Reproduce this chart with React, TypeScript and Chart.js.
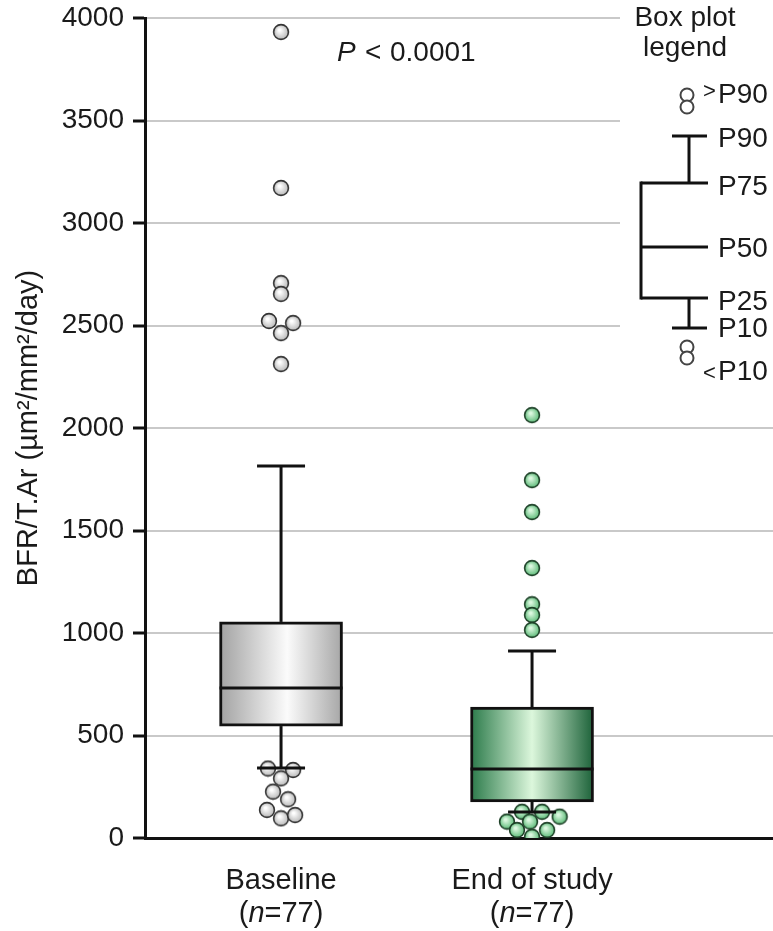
import React, { useEffect, useRef } from 'react';
import { Chart, registerables } from 'chart.js';

Chart.register(...registerables);

// ---------- data ----------
const categories = ['Baseline', 'End of study'];
const sampleSizes = [77, 77];
const p10 = [341, 127];
const p25 = [546, 176];
const p50 = [732, 337];
const p75 = [1054, 639];
const p90 = [1815, 912];

const baselineOutliers = [3932, 3171, 2707, 2654, 2522, 2512, 2463, 2312, 339, 332, 291, 226, 189, 137, 96, 112];
const baselineJitter = [0, 0, 0, 0, -0.048, 0.048, 0, 0, -0.052, 0.048, 0, -0.032, 0.028, -0.056, 0, 0.056];
const endOutliers = [2063, 1746, 1590, 1317, 1140, 1088, 1015, 128, 128, 104, 80, 80, 39, 39, 6];
const endJitter = [0, 0, 0, 0, 0, 0, 0, -0.04, 0.04, 0.11, -0.1, -0.008, -0.06, 0.06, 0];

const yMin = 0;
const yMax = 4000;
const yStep = 500;
const yTitle = 'BFR/T.Ar (\u00b5m\u00b2/mm\u00b2/day)';
const pValueText = '< 0.0001';
const legendTitle = ['Box plot', 'legend'];
const legendLabels = ['>P90', 'P90', 'P75', 'P50', 'P25', 'P10', '<P10'];

const FONT = "'Liberation Sans', Arial, Helvetica, sans-serif";
const INK = '#1a1a1a';

function makeBall(inner: string, outer: string, stroke: string): HTMLCanvasElement {
  const c = document.createElement('canvas');
  c.width = 18;
  c.height = 18;
  const g = c.getContext('2d')!;
  const grad = g.createRadialGradient(7.5, 7, 1, 9, 9, 8);
  grad.addColorStop(0, inner);
  grad.addColorStop(1, outer);
  g.beginPath();
  g.arc(9, 9, 7.4, 0, Math.PI * 2);
  g.fillStyle = grad;
  g.fill();
  g.lineWidth = 1.6;
  g.strokeStyle = stroke;
  g.stroke();
  return c;
}

const BOX_W = 123;
const CAP_W = 48;

const boxPlotPlugin = {
  id: 'boxPlotExtras',
  beforeDatasetsDraw(chart: any) {
    const ctx = chart.ctx;
    ctx.save();
    ctx.fillStyle = '#ffffff';
    ctx.fillRect(620, 0, 160, 388);
    ctx.restore();
  },
  afterDatasetsDraw(chart: any) {
    const ctx = chart.ctx;
    const xs = chart.scales.x;
    const ys = chart.scales.y;
    ctx.save();
    ctx.strokeStyle = '#111';
    ctx.lineWidth = 3;
    ctx.lineCap = 'butt';
    categories.forEach((_, i) => {
      const cx = xs.getPixelForValue(i + 1);
      const line = (x1: number, y1: number, x2: number, y2: number) => {
        ctx.beginPath();
        ctx.moveTo(x1, y1);
        ctx.lineTo(x2, y2);
        ctx.stroke();
      };
      line(cx, ys.getPixelForValue(p75[i]), cx, ys.getPixelForValue(p90[i]));
      line(cx, ys.getPixelForValue(p25[i]), cx, ys.getPixelForValue(p10[i]));
      line(cx - CAP_W / 2, ys.getPixelForValue(p90[i]), cx + CAP_W / 2, ys.getPixelForValue(p90[i]));
      line(cx - CAP_W / 2, ys.getPixelForValue(p10[i]), cx + CAP_W / 2, ys.getPixelForValue(p10[i]));
      line(cx - BOX_W / 2, ys.getPixelForValue(p50[i]), cx + BOX_W / 2, ys.getPixelForValue(p50[i]));
    });
    ctx.restore();
  },
  afterDraw(chart: any) {
    const ctx = chart.ctx;
    const xs = chart.scales.x;
    ctx.save();
    ctx.fillStyle = INK;
    ctx.textBaseline = 'alphabetic';

    // P value
    ctx.textAlign = 'left';
    ctx.font = `italic 28px ${FONT}`;
    ctx.fillText('P', 337, 61);
    ctx.font = `28px ${FONT}`;
    ctx.fillText('<', 365, 61);
    ctx.fillText(pValueText.replace('< ', ''), 390, 61);

    // x category labels
    categories.forEach((cat, i) => {
      const cx = xs.getPixelForValue(i + 1);
      ctx.font = `29px ${FONT}`;
      ctx.textAlign = 'center';
      ctx.fillText(cat, cx, 889);
      const a = '(';
      const b = 'n';
      const c = `=${sampleSizes[i]})`;
      ctx.font = `29px ${FONT}`;
      const wa = ctx.measureText(a).width;
      const wc = ctx.measureText(c).width;
      ctx.font = `italic 29px ${FONT}`;
      const wb = ctx.measureText(b).width;
      const x0 = cx - (wa + wb + wc) / 2;
      ctx.textAlign = 'left';
      ctx.font = `29px ${FONT}`;
      ctx.fillText(a, x0, 922);
      ctx.font = `italic 29px ${FONT}`;
      ctx.fillText(b, x0 + wa, 922);
      ctx.font = `29px ${FONT}`;
      ctx.fillText(c, x0 + wa + wb, 922);
    });

    // Legend
    ctx.textAlign = 'center';
    ctx.font = `28px ${FONT}`;
    ctx.fillText(legendTitle[0], 685, 26);
    ctx.fillText(legendTitle[1], 685, 56);

    ctx.strokeStyle = '#111';
    ctx.lineWidth = 3;
    const L = (x1: number, y1: number, x2: number, y2: number) => {
      ctx.beginPath();
      ctx.moveTo(x1, y1);
      ctx.lineTo(x2, y2);
      ctx.stroke();
    };
    L(672, 136, 707, 136);
    L(689, 136, 689, 183);
    L(641, 183, 708, 183);
    L(641, 247, 708, 247);
    L(641, 298, 708, 298);
    L(641, 181.5, 641, 299.5);
    L(689, 298, 689, 328);
    L(672, 328, 707, 328);

    ctx.lineWidth = 2;
    ctx.strokeStyle = '#444';
    ctx.fillStyle = '#fff';
    [[687, 95], [687, 107], [687, 347], [687, 358]].forEach(([x, y]) => {
      ctx.beginPath();
      ctx.arc(x, y, 6.5, 0, Math.PI * 2);
      ctx.fill();
      ctx.stroke();
    });

    ctx.fillStyle = INK;
    ctx.textAlign = 'left';
    ctx.font = `22px ${FONT}`;
    ctx.fillText('>', 703, 98);
    ctx.font = `28px ${FONT}`;
    ctx.fillText(legendLabels[0].slice(1), 718, 103);
    ctx.fillText(legendLabels[1], 718, 147);
    ctx.fillText(legendLabels[2], 718, 195);
    ctx.fillText(legendLabels[3], 718, 257);
    ctx.fillText(legendLabels[4], 718, 310);
    ctx.fillText(legendLabels[5], 718, 337);
    ctx.font = `22px ${FONT}`;
    ctx.fillText('<', 703, 380);
    ctx.font = `28px ${FONT}`;
    ctx.fillText(legendLabels[6].slice(1), 718, 380);

    ctx.restore();
  },
};

export default function App() {
  const ref = useRef<HTMLCanvasElement | null>(null);

  useEffect(() => {
    document.body.style.margin = '0';
    const canvas = ref.current;
    if (!canvas) return;

    const greyBall = makeBall('#ffffff', '#b5b5b5', '#333333');
    const greenBall = makeBall('#dcf8e0', '#56b873', '#1c3f26');

    const boxFill = (ctx: any) => {
      const chart = ctx.chart;
      const xs = chart.scales && chart.scales.x;
      const i = ctx.dataIndex ?? 0;
      const fallback = i === 0 ? '#d0d0d0' : '#5fae7a';
      if (!xs || !chart.ctx || !chart.chartArea) return fallback;
      const cx = xs.getPixelForValue(i + 1);
      if (!Number.isFinite(cx)) return fallback;
      const g = chart.ctx.createLinearGradient(cx - BOX_W / 2, 0, cx + BOX_W / 2, 0);
      if (i === 0) {
        g.addColorStop(0, '#a2a2a2');
        g.addColorStop(0.55, '#fbfbfb');
        g.addColorStop(1, '#a6a6a6');
      } else {
        g.addColorStop(0, '#2b7a4a');
        g.addColorStop(0.5, '#dcf7dc');
        g.addColorStop(1, '#1c6239');
      }
      return g;
    };

    const chart = new Chart(canvas, {
      type: 'bar',
      data: {
        datasets: [
          {
            type: 'bar',
            label: 'box',
            data: categories.map((_, i) => ({ x: i + 1, y: [p25[i], p75[i]] })) as any,
            backgroundColor: boxFill as any,
            borderColor: '#111',
            borderWidth: 3,
            borderSkipped: false,
            barThickness: BOX_W,
            order: 2,
          } as any,
          {
            type: 'scatter',
            label: 'baseline outliers',
            data: baselineOutliers.map((v, k) => ({ x: 1 + baselineJitter[k], y: v })),
            pointStyle: greyBall as any,
            pointRadius: 8,
            order: 1,
          } as any,
          {
            type: 'scatter',
            label: 'end outliers',
            data: endOutliers.map((v, k) => ({ x: 2 + endJitter[k], y: v })),
            pointStyle: greenBall as any,
            pointRadius: 8,
            order: 1,
          } as any,
        ],
      },
      options: {
        animation: false,
        responsive: false,
        maintainAspectRatio: false,
        layout: { autoPadding: false, padding: { top: 18, right: 0, left: 0, bottom: 0 } },
        plugins: {
          legend: { display: false },
          tooltip: { enabled: false },
          title: { display: false },
        },
        scales: {
          x: {
            type: 'linear',
            min: 0.458,
            max: 2.96,
            offset: false,
            grid: { display: false },
            ticks: { display: false },
            border: { display: true, color: '#111', width: 3 },
            afterFit: (scale: any) => {
              scale.height = 93;
              scale.paddingLeft = 0;
              scale.paddingRight = 0;
            },
          },
          y: {
            type: 'linear',
            min: yMin,
            max: yMax,
            ticks: {
              stepSize: yStep,
              color: INK,
              font: { family: FONT, size: 28 },
              padding: 9,
              callback: (v: any) => String(v),
            },
            grid: {
              color: (c: any) => (c.tick && c.tick.value === 0 ? 'rgba(0,0,0,0)' : '#c9c9c9'),
              lineWidth: 2,
              tickColor: '#111',
              tickWidth: 3,
              tickLength: 12,
              drawTicks: true,
            },
            border: { display: true, color: '#111', width: 3 },
            title: {
              display: true,
              text: yTitle,
              color: INK,
              font: { family: FONT, size: 29 },
              padding: { top: 12, bottom: 0 },
            },
            afterFit: (scale: any) => {
              scale.width = 145;
              scale.paddingTop = 0;
              scale.paddingBottom = 0;
            },
          },
        },
      },
      plugins: [boxPlotPlugin],
    });

    return () => chart.destroy();
  }, []);

  return (
    <div style={{ width: 773, height: 931, position: 'relative', background: '#fff' }}>
      <canvas ref={ref} width={773} height={931} style={{ display: 'block' }} />
    </div>
  );
}
